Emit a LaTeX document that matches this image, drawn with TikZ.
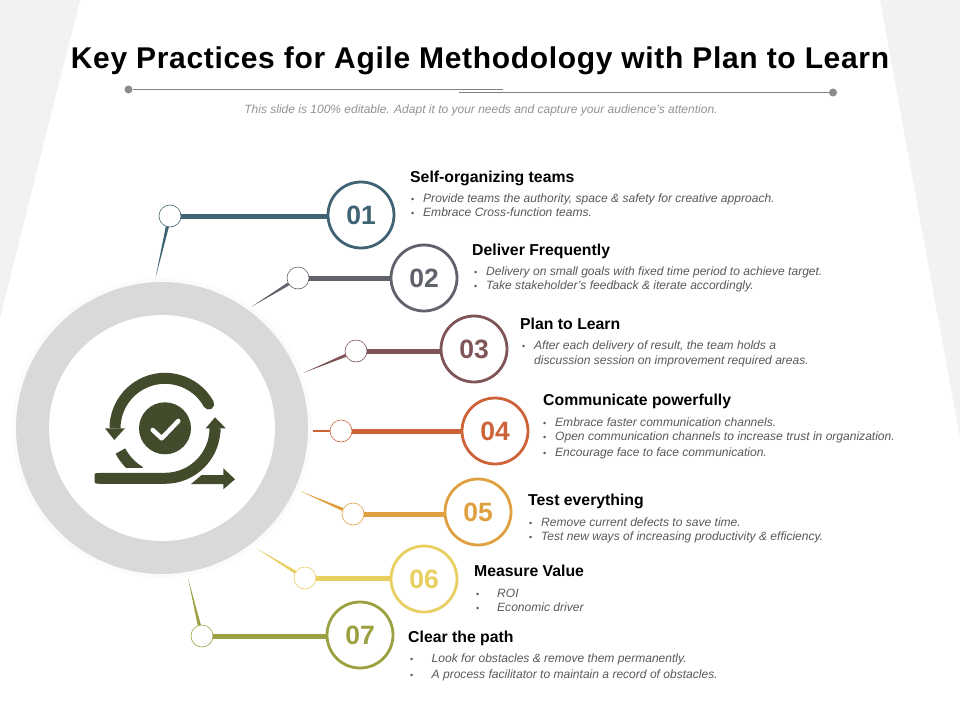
\documentclass[tikz,border=0pt]{standalone}
\usepackage{fontspec}
\setmainfont{Liberation Sans}
\usetikzlibrary{calc}
\definecolor{cA}{HTML}{3F6373}
\definecolor{cB}{HTML}{60636B}
\definecolor{cC}{HTML}{7F5557}
\definecolor{cD}{HTML}{CE6238}
\definecolor{cE}{HTML}{E0A040}
\definecolor{cF}{HTML}{E8CF60}
\definecolor{cG}{HTML}{9BA040}
\definecolor{bgside}{HTML}{F2F2F2}
\definecolor{ringc}{HTML}{D9D9D9}
\definecolor{iconc}{HTML}{434B2D}
\definecolor{bodyc}{HTML}{595959}
\newcommand\bl[2]{\makebox[#1pt][l]{\fontsize{9}{9}\selectfont\upshape •}#2}
\tikzset{
  bigc/.style={circle,draw=#1,fill=white,line width=2.8pt,minimum size=66pt,inner sep=0pt,
    text=#1,font=\fontsize{26.5}{27}\selectfont\bfseries},
  smallc/.style={circle,draw=#1,fill=white,line width=0.6pt,minimum size=22pt,inner sep=0pt},
  link/.style={draw=#1,line width=5pt},
  head/.style={anchor=base west,inner sep=0pt,font=\fontsize{15.8}{16}\selectfont\bfseries,text=black},
  body/.style={anchor=base west,inner sep=0pt,font=\fontsize{12.05}{12}\selectfont\itshape,text=bodyc},
  iconline/.style={draw=iconc,line width=11pt},
  dotc/.style={circle,fill=gray!90,inner sep=0pt,minimum size=8pt},
}
\begin{document}
\begin{tikzpicture}[x=1pt,y=-1pt]
\useasboundingbox (0,0) rectangle (960,720);
\fill[white] (0,0) rectangle (960,720);
\fill[bgside] (0,0) -- (80,0) -- (0,318) -- cycle;
\fill[bgside] (960,0) -- (880,0) -- (960,438) -- cycle;
% title
\node[anchor=base,inner sep=0pt,font=\fontsize{30}{30}\selectfont\bfseries\addfontfeatures{LetterSpace=2.2}] (title) at (480,68) {Key Practices for Agile Methodology with Plan to Learn};
\node[dotc] (dl) at (128.5,89.5) {};
\node[dotc] (dr) at (833,92.5) {};
\coordinate (dlend) at (503,89.5);
\coordinate (drend) at (459,92.5);
\draw[gray,line width=1pt] (dl) -- (dlend);
\draw[gray,line width=1pt] (dr) -- (drend);
\node[anchor=base,inner sep=0pt,text=gray!85,font=\fontsize{12}{12}\selectfont\itshape] (sub) at (481,113) {This slide is 100\% editable. Adapt it to your needs and capture your audience's attention.};
% ring
\fill[white!97!gray] (162,428) circle[radius=150];
\fill[ringc] (162,428) circle[radius=146];
\fill[white] (162,428) circle[radius=113];
% icon
\coordinate (ic) at (165,428.3);
\fill[iconc] (ic) circle[radius=26];
\draw[white,line width=4.5pt,line join=round,line cap=round] (152.7,430) -- (161.7,438.3) -- (178.3,421);
\draw[iconline,line cap=round] (ic) ++(-29:50) arc[start angle=-29,end angle=-170,radius=50];
\draw[iconline,line cap=butt] (ic) ++(-170:50) arc[start angle=-170,end angle=-180,radius=50];
\fill[iconc] (105,428.3) -- (125,428.3) -- (114.3,440) -- cycle;
\draw[iconline,line cap=butt] (215,432) -- (215,428.3) arc[start angle=0,end angle=90,radius=50] -- (99,478.3);
\fill[iconc,rounded corners=2pt] (94.5,473) rectangle (104,483.6);
\fill[iconc] (205.7,428.3) -- (225.7,428.3) -- (215,417.3) -- cycle;
\begin{scope}
\clip (100,400) rectangle (200,467.5);
\draw[iconline] (ic) ++(153:50) arc[start angle=153,end angle=120,radius=50];
\end{scope}
\fill[iconc] (191,484) -- (201.7,475) -- (223.3,475) -- (223.3,468.3) -- (235,479.3) -- (223.3,489.3) -- (223.3,484) -- cycle;
% nodes
\node[bigc=cA] (b1) at (361,215) {01};
\node[bigc=cB] (b2) at (424,278) {02};
\node[bigc=cC] (b3) at (474,349) {03};
\node[bigc=cD] (b4) at (495,431) {04};
\node[bigc=cE] (b5) at (478,512) {05};
\node[bigc=cF] (b6) at (424,579) {06};
\node[bigc=cG] (b7) at (360,635) {07};
\node[smallc=cA] (s1) at (170,216) {};
\node[smallc=cB] (s2) at (298,278) {};
\node[smallc=cC] (s3) at (356,351) {};
\node[smallc=cD] (s4) at (341,431) {};
\node[smallc=cE] (s5) at (353,514) {};
\node[smallc=cF] (s6) at (305,578) {};
\node[smallc=cG] (s7) at (202,636) {};
\coordinate (t1) at (155.5,278);
\coordinate (t2) at (251,307);
\coordinate (t3) at (303,373);
\coordinate (t4) at (313,431);
\coordinate (t5) at (300,491);
\coordinate (t6) at (256,548);
\coordinate (t7) at (188,578);
\draw[link=cA] (s1.east) -- (b1.west |- s1.east);
\draw[link=cB] (s2) -- (b2);
\draw[link=cC] (s3.east) -- (b3.west |- s3.east);
\draw[link=cD] (s4) -- (b4);
\draw[link=cE] (s5.east) -- (b5.west |- s5.east);
\draw[link=cF] (s6.east) -- (b6.west |- s6.east);
\draw[link=cG] (s7.east) -- (b7.west |- s7.east);
\fill[cA] (s1.248) -- (t1) -- (s1.264) -- cycle;
\fill[cB] (s2.204) -- (t2) -- (s2.220) -- cycle;
\fill[cC] (s3.195) -- (t3) -- (s3.211) -- cycle;
\draw[cD,line width=2.5pt] (s4.west) -- (t4);
\fill[cE] (s5.148) -- (t5) -- (s5.164) -- cycle;
\fill[cF] (s6.141) -- (t6) -- (s6.157) -- cycle;
\fill[cG] (s7.96) -- (t7) -- (s7.112) -- cycle;
% text
\node[head] (h1) at (410,182) {Self-organizing teams};
\node[body] (a1) at (411,202) {\bl{12}{Provide teams the authority, space \& safety for creative approach.}};
\node[body] (a2) at (411,216) {\bl{12}{Embrace Cross-function teams.}};
\node[head] (h2) at (472,255) {Deliver Frequently};
\node[body] (c1) at (474,275) {\bl{12}{Delivery on small goals with fixed time period to achieve target.}};
\node[body] (c2) at (474,289) {\bl{12}{Take stakeholder's  feedback \& iterate accordingly.}};
\node[head] (h3) at (520,329) {Plan to Learn};
\node[body] (d1) at (522,349) {\bl{12}{After each delivery of result, the team holds a}};
\node[body] (d2) at (534,364) {discussion session on improvement required areas.};
\node[head] (h4) at (543,405) {Communicate powerfully};
\node[body] (e1) at (543,426) {\bl{12}{Embrace faster communication channels.}};
\node[body] (e2) at (543,440) {\bl{12}{Open communication channels to increase trust in organization.}};
\node[body] (e3) at (543,456) {\bl{12}{Encourage face to face communication.}};
\node[head] (h5) at (528,505) {Test everything};
\node[body] (f1) at (529,526) {\bl{12}{Remove current defects to save time.}};
\node[body] (f2) at (529,540) {\bl{12}{Test new ways of increasing productivity \& efficiency.}};
\node[head] (h6) at (474,576) {Measure Value};
\node[body] (g1) at (476,597) {\bl{21}{ROI}};
\node[body] (g2) at (476,611) {\bl{21}{Economic driver}};
\node[head] (h7) at (408,642) {Clear the path};
\node[body] (k1) at (410,662) {\bl{21.5}{Look for obstacles \& remove them permanently.}};
\node[body] (k2) at (410,678) {\bl{21.5}{A process facilitator to maintain a record of obstacles.}};
\end{tikzpicture}
\end{document}
